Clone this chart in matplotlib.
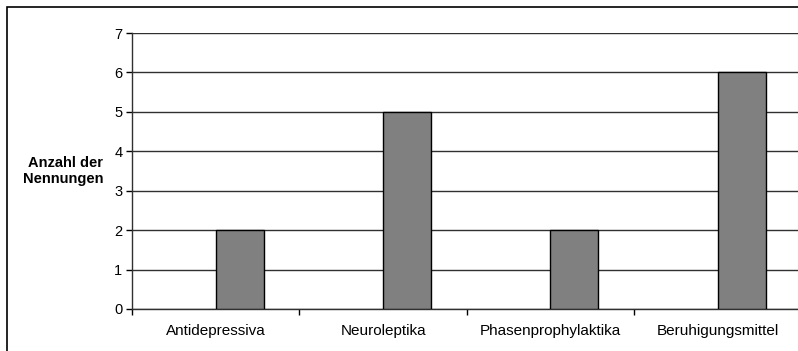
import numpy as np
import matplotlib.pyplot as plt
from matplotlib.patches import Rectangle

plt.rcParams['font.family'] = ['Liberation Sans', 'DejaVu Sans']

kategorien = ['Antidepressiva', 'Neuroleptika', 'Phasenprophylaktika', 'Beruhigungsmittel']
nennungen = [2, 5, 2, 6]

W, H = 798, 351
fig = plt.figure(figsize=(W / 100, H / 100), dpi=100)

# Rahmen um das Diagramm (rechts und unten abgeschnitten)
fig.patches.append(Rectangle((7 / W, -0.1), 1.2, (H - 7) / H + 0.1,
                             transform=fig.transFigure, fill=False,
                             edgecolor='black', linewidth=1.2))

ax = fig.add_axes([132 / W, 42 / H, 669.5 / W, 276 / H])

x = np.arange(len(kategorien))
ax.bar(x, nennungen, width=0.287, align='edge', color='#808080',
       edgecolor='black', linewidth=1.0, zorder=3)

ax.set_xlim(-0.5, len(kategorien) - 0.5)
ax.set_ylim(0, 7)
ax.set_yticks(range(8))
ax.yaxis.grid(True, color='#303030', linewidth=1.0, zorder=0)
ax.set_axisbelow(True)

# Striche an den Kategoriegrenzen, Beschriftung in der Mitte
ax.set_xticks(np.arange(len(kategorien) + 1) - 0.5)
ax.set_xticklabels([])
ax.set_xticks(x, minor=True)
ax.set_xticklabels(kategorien, minor=True, fontsize=11)
ax.tick_params(axis='x', which='minor', length=0, pad=11)
ax.tick_params(axis='x', which='major', length=4, width=1, direction='out')
ax.tick_params(axis='y', length=4, width=1, labelsize=10.5, pad=3)

for s in ['top', 'right']:
    ax.spines[s].set_visible(False)
for s in ['left', 'bottom']:
    ax.spines[s].set_color('#303030')
    ax.spines[s].set_linewidth(1.0)

fig.text(103 / W, 1 - 171 / H, 'Anzahl der\nNennungen', ha='right', va='center',
         fontsize=10.5, fontweight='bold', linespacing=1.25)

fig.savefig('out.png', dpi=100)
